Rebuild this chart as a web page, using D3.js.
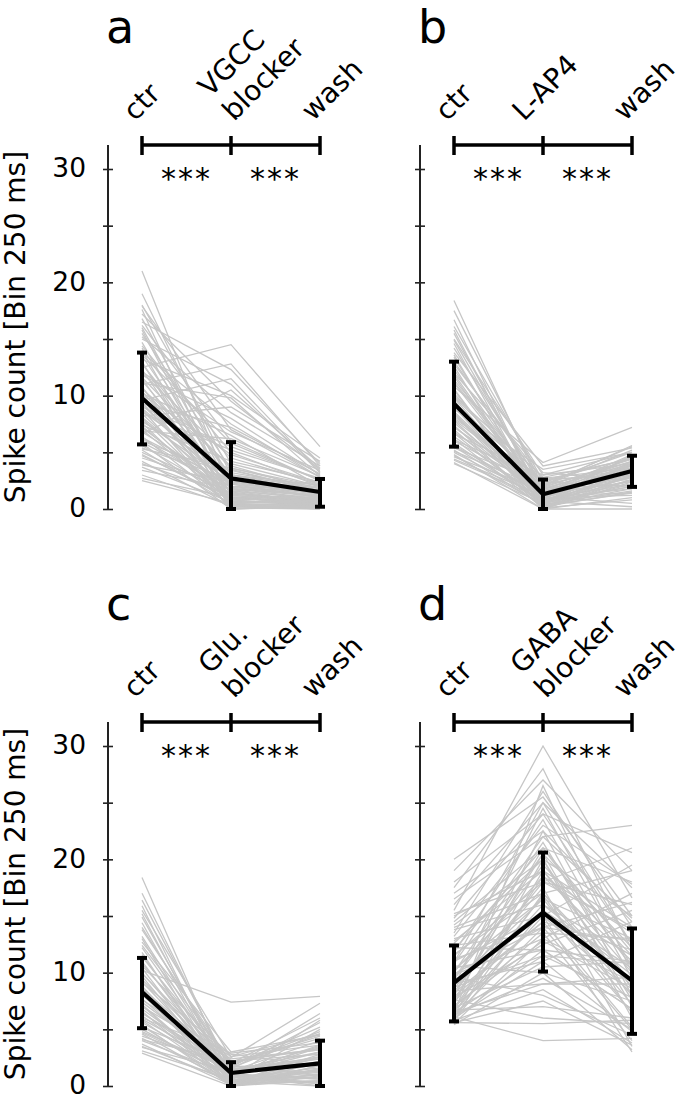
<!DOCTYPE html>
<html><head><meta charset="utf-8">
<script src="https://cdn.jsdelivr.net/npm/d3@7"></script>
<style>body{margin:0;background:#fff}svg{display:block}text{font-family:"DejaVu Sans",Verdana,sans-serif;fill:#000}</style>
</head><body>
<script>
// ---------- data ----------
const letters = ["a", "b", "c", "d"];
const catsA = ["ctr", "VGCC\nblocker", "wash"];
const catsB = ["ctr", "L-AP4", "wash"];
const catsC = ["ctr", "Glu.\nblocker", "wash"];
const catsD = ["ctr", "GABA\nblocker", "wash"];
const yTicks = [0, 5, 10, 15, 20, 25, 30];
const yLabeled = [0, 10, 20, 30];
const yLabel = "Spike count [Bin 250 ms]";
const sigLabels = ["***", "***"];

const cellsA = [
[21.0,1.5,0.5],[18.0,4.0,2.0],[17.6,0.5,0.8],[17.2,9.5,3.5],[16.8,2.5,1.0],[16.5,12.3,4.0],[16.2,6.0,2.5],[15.8,0.8,0.3],
[15.5,3.5,1.5],[15.0,11.0,3.2],[14.7,1.2,0.6],[14.4,5.0,2.0],[14.0,0.3,0.2],[13.8,7.5,2.8],[13.5,2.0,1.2],[13.2,10.0,4.5],
[13.0,0.0,0.5],[12.8,3.0,1.8],[12.5,14.5,5.5],[12.3,1.0,0.4],[12.0,4.5,2.2],[11.8,8.0,3.0],[11.5,0.6,0.9],[11.3,2.2,1.0],
[11.0,12.8,3.8],[10.8,0.2,0.1],[10.6,3.8,1.6],[10.4,1.5,2.5],[10.2,6.5,2.0],[10.0,0.4,0.3],[9.8,2.8,1.4],[9.6,11.5,3.3],
[9.4,0.9,0.7],[9.2,1.8,1.1],[9.0,5.5,2.6],[8.8,0.0,0.2],[8.6,3.2,1.9],[8.4,1.1,0.5],[8.2,9.0,4.2],[8.0,0.5,1.0],
[7.8,2.4,1.3],[7.6,0.1,0.0],[7.4,4.2,2.4],[7.2,1.3,0.8],[7.0,0.7,0.4],[6.8,2.0,1.7],[6.6,10.5,3.6],[6.4,0.3,0.6],
[6.2,1.6,0.9],[6.0,3.0,2.1],[5.8,0.0,0.3],[5.6,1.0,1.2],[5.4,2.6,1.5],[5.2,0.4,0.0],[5.0,1.4,0.7],[4.8,0.8,1.0],
[4.5,2.0,1.4],[4.2,0.2,0.2],[4.0,1.2,0.8],[3.7,0.6,0.5],[3.4,1.8,1.2],[3.0,0.3,0.4],[2.7,1.0,0.6],[2.5,0.5,0.3],
[19.0,3.0,1.5],[17.9,7.0,2.8],[16.0,1.8,0.9],[15.2,8.5,3.8],[14.2,2.6,1.4],[13.6,5.8,2.5],[12.9,1.4,0.7],[12.1,6.8,3.4],
[11.6,3.6,1.8],[11.1,9.8,2.9],[10.7,1.9,1.2],[10.1,4.8,2.3],[9.7,0.7,0.5],[9.3,7.2,3.1],[8.9,2.2,1.5],[8.5,5.2,2.7],
[8.1,1.6,0.6],[7.7,3.4,1.6],[7.3,0.9,1.1],[6.9,6.2,2.9],[6.3,2.3,1.3],[5.9,1.7,0.8],[5.3,3.6,2.0],[4.7,1.0,0.4],[3.9,2.4,1.6]];
const cellsB = [
[18.4,1.5,3.0],[16.7,0.5,2.0],[16.1,2.5,4.5],[15.5,1.0,3.5],[15.0,3.0,5.0],[14.6,0.2,1.5],[14.2,1.8,4.0],[13.8,3.8,5.4],
[13.4,0.8,2.8],[13.0,2.2,3.6],[12.6,0.0,1.0],[12.3,1.4,4.8],[12.0,3.2,2.5],[11.7,0.6,3.2],[11.4,2.0,5.2],[11.1,1.1,0.5],
[10.8,4.1,7.2],[10.5,0.3,2.2],[10.2,1.6,3.8],[10.0,2.8,4.4],[9.8,0.9,1.8],[9.6,0.0,3.0],[9.4,1.3,4.6],[9.2,2.4,2.0],
[9.0,0.5,3.4],[8.8,3.5,5.0],[8.6,1.0,1.2],[8.4,0.2,2.6],[8.2,1.7,4.2],[8.0,2.6,3.0],[7.8,0.7,0.2],[7.6,1.2,3.8],
[7.4,0.0,2.4],[7.2,2.0,5.6],[7.0,0.4,1.6],[6.8,1.5,3.2],[6.6,3.0,4.0],[6.4,0.8,2.8],[6.2,0.1,0.8],[6.0,1.9,4.4],
[5.8,0.6,2.0],[5.6,1.3,3.6],[5.4,2.3,5.0],[5.2,0.3,1.4],[5.0,1.0,2.9],[4.8,0.0,0.0],[4.6,1.6,3.3],[4.3,0.9,2.2],[4.0,0.5,4.8],
[17.5,2.0,4.2],[15.8,0.6,2.6],[14.9,1.2,3.9],[13.6,0.4,4.2],[12.8,2.6,3.0],[11.9,0.9,4.0],[11.2,1.8,2.8],[10.6,0.1,3.6],
[9.9,2.1,5.5],[9.1,1.4,2.4],[8.5,0.6,3.9],[7.9,1.9,2.1],[7.3,1.0,4.6],[6.7,0.3,1.8],[6.1,2.7,3.6],[5.5,0.7,2.5],
[5.1,1.8,4.0],[4.7,0.4,3.0],[4.4,1.2,1.4],[4.1,0.0,2.6]];
const cellsC = [
[18.4,0.5,1.0],[16.4,1.5,2.5],[15.9,0.0,0.5],[15.5,2.5,7.3],[14.9,1.0,3.0],[14.4,0.3,1.5],[13.8,2.0,6.0],[13.2,0.8,0.2],
[12.7,3.0,4.5],[12.2,1.2,2.0],[11.8,0.0,0.8],[11.4,1.8,5.2],[11.0,0.5,1.2],[10.6,2.6,3.6],[10.2,7.4,7.9],[10.0,1.0,0.0],
[9.7,0.2,2.6],[9.4,1.6,6.4],[9.1,2.8,1.8],[8.8,0.6,0.4],[8.5,1.3,4.0],[8.2,0.0,1.4],[8.0,2.2,2.8],[7.7,0.9,0.6],
[7.4,1.5,5.6],[7.2,0.3,1.0],[7.0,2.4,3.2],[6.8,1.1,0.2],[6.6,0.0,2.2],[6.4,1.8,4.8],[6.2,0.7,1.6],[6.0,2.9,3.8],
[5.8,0.4,0.0],[5.6,1.2,2.4],[5.4,0.0,0.9],[5.2,2.0,4.2],[5.0,0.8,1.3],[4.8,1.4,3.0],[4.6,0.2,0.4],[4.4,1.7,2.0],
[4.2,0.5,5.0],[4.0,1.0,0.7],[3.7,0.1,1.8],[3.4,1.3,2.6],[3.1,0.6,0.3],[2.9,0.0,1.1],
[17.0,1.2,3.5],[15.2,0.4,2.0],[14.0,1.6,4.6],[13.0,0.0,1.8],[12.4,2.2,3.2],[11.6,0.7,5.8],[10.8,1.4,2.4],[10.4,0.2,1.0],
[9.9,2.0,4.4],[9.2,0.9,3.4],[8.6,1.8,0.9],[8.1,0.5,2.2],[7.6,2.6,4.6],[7.1,0.1,1.5],[6.5,1.0,3.6],[5.9,1.6,1.2],
[5.3,0.3,2.8],[4.7,1.1,0.6],[4.1,2.2,3.3],[3.5,0.4,1.4]];
const cellsD = [
[20.0,25.5,15.0],[18.0,24.0,20.6],[17.5,28.0,12.0],[16.5,22.0,23.0],[15.5,30.0,16.6],[15.0,19.0,10.0],[14.5,21.0,18.0],[14.0,17.0,8.0],
[13.5,26.0,14.0],[13.0,15.0,19.5],[12.6,20.0,6.0],[12.2,12.0,11.0],[11.8,23.5,9.5],[11.5,18.0,16.0],[11.2,14.0,5.0],[10.9,25.0,12.5],
[10.6,10.0,7.5],[10.3,16.5,13.0],[10.0,21.5,8.5],[9.8,13.0,17.0],[9.6,8.0,4.5],[9.4,19.5,11.5],[9.2,15.5,6.5],[9.0,11.0,14.5],
[8.8,24.5,10.5],[8.6,17.5,3.5],[8.4,9.0,9.0],[8.2,14.5,12.0],[8.0,20.5,7.0],[7.8,12.5,15.5],[7.6,6.0,5.5],[7.4,16.0,9.8],
[7.2,22.5,8.0],[7.0,13.5,4.0],[6.9,10.5,11.0],[6.8,18.5,13.5],[6.7,7.0,6.0],[6.6,15.0,3.0],[6.5,11.5,7.8],[6.4,26.5,10.0],
[6.3,9.5,5.0],[6.2,14.0,12.8],[6.1,4.0,4.2],[6.0,17.0,8.8],[5.9,12.0,6.8],[5.8,8.5,3.8],[5.7,19.0,14.0],[5.6,5.5,5.8],
[5.5,13.0,9.2],[5.4,10.0,3.2],
[19.0,27.0,19.0],[17.0,22.5,14.5],[16.0,25.0,17.5],[15.2,18.0,21.0],[14.8,24.0,12.5],[14.2,20.0,15.0],[13.8,16.0,11.5],[13.2,23.0,17.8],
[12.8,19.0,9.0],[12.4,13.5,13.0],[12.0,21.0,10.5],[11.6,17.0,19.0],[11.0,15.0,8.2],[10.8,22.0,14.8],[10.4,12.0,6.8],[10.1,18.5,11.0],
[9.9,14.0,16.2],[9.5,20.5,12.2],[9.1,16.5,7.2],[8.7,11.5,10.8],[8.3,18.0,13.8],[7.9,14.5,5.2],[7.5,21.0,11.8],[7.1,12.8,8.6],
[6.8,16.8,6.4],[6.5,9.0,9.6],[6.2,20.0,7.6],[6.0,11.0,4.8],[5.8,15.5,10.4],[5.6,7.5,3.6]];

const meanA = [9.8, 2.7, 1.5],  loA = [5.7, 0.0, 0.2], hiA = [13.8, 5.9, 2.65];
const meanB = [9.3, 1.3, 3.35], loB = [5.5, 0.0, 1.95], hiB = [13.0, 2.6, 4.7];
const meanC = [8.3, 1.15, 2.0], loC = [5.1, 0.0, 0.0], hiC = [11.3, 2.1, 4.0];
const meanD = [9.1, 15.3, 9.3], loD = [5.7, 10.1, 4.6], hiD = [12.4, 20.6, 13.9];

// ---------- layout (positions / styles only) ----------
const W = 685, H = 1100, FS = 28;
const labelShift = {"ctr": -7, "wash": -7, "L-AP4": -19, "multi": 3};
const panels = [
  {letter: letters[0], cats: catsA, cells: cellsA, mean: meanA, lo: loA, hi: hiA, ax: 108, base: 509, showLabels: true},
  {letter: letters[1], cats: catsB, cells: cellsB, mean: meanB, lo: loB, hi: hiB, ax: 420, base: 509, showLabels: false},
  {letter: letters[2], cats: catsC, cells: cellsC, mean: meanC, lo: loC, hi: hiC, ax: 108, base: 1086, showLabels: true},
  {letter: letters[3], cats: catsD, cells: cellsD, mean: meanD, lo: loD, hi: hiD, ax: 420, base: 1086, showLabels: false}
];

const svg = d3.select("body").append("svg").attr("width", W).attr("height", H);

panels.forEach(p => {
  const g = svg.append("g");
  const y = d3.scaleLinear().domain([0, 30]).range([p.base, p.base - 340]);
  const x = d3.scalePoint().domain([0, 1, 2]).range([p.ax + 34, p.ax + 212]);
  const top = p.base - 364;

  // axis
  const axis = d3.axisLeft(y).tickValues(yTicks).tickSize(5).tickPadding(17)
    .tickFormat(d => (p.showLabels && yLabeled.includes(d)) ? d : "");
  const ag = g.append("g").attr("transform", `translate(${p.ax},0)`).call(axis);
  ag.select(".domain").remove();
  ag.append("line").attr("x1", 0).attr("x2", 0).attr("y1", y(0)).attr("y2", top)
    .attr("stroke", "#222").attr("stroke-width", 2);
  ag.selectAll(".tick line").attr("x1", -5).attr("x2", 5).attr("stroke", "#222").attr("stroke-width", 1.6);
  ag.selectAll(".tick text").attr("font-size", 26.5).attr("fill", "#000").attr("dy", "0.3em")
    .style("font-family", '"DejaVu Sans",Verdana,sans-serif');

  if (p.showLabels) {
    g.append("text").attr("transform", `translate(25,${(y(0) + top) / 2}) rotate(-90)`)
      .attr("text-anchor", "middle").attr("font-size", FS).text(yLabel);
  }

  // panel letter
  g.append("text").attr("x", p.ax - 2).attr("y", p.base - 466).attr("font-size", 46).text(p.letter);

  // grey individual lines
  const line = d3.line().x((d, i) => x(i)).y(d => y(d));
  g.append("g").selectAll("path").data(p.cells).join("path")
    .attr("d", line).attr("fill", "none").attr("stroke", "#c6c6c6").attr("stroke-width", 1.3);

  // mean line
  g.append("path").datum(p.mean).attr("d", line).attr("fill", "none")
    .attr("stroke", "#000").attr("stroke-width", 4.2).attr("stroke-linejoin", "round");
  // error bars
  const eb = g.append("g").attr("stroke", "#000").attr("stroke-width", 4);
  p.mean.forEach((m, i) => {
    eb.append("line").attr("x1", x(i)).attr("x2", x(i)).attr("y1", y(p.lo[i])).attr("y2", y(p.hi[i]));
    eb.append("line").attr("x1", x(i) - 5).attr("x2", x(i) + 5).attr("y1", y(p.lo[i])).attr("y2", y(p.lo[i]));
    eb.append("line").attr("x1", x(i) - 5).attr("x2", x(i) + 5).attr("y1", y(p.hi[i])).attr("y2", y(p.hi[i]));
  });

  // bracket
  const by = top;
  const bg = g.append("g").attr("stroke", "#000").attr("stroke-width", 3.5);
  bg.append("line").attr("x1", x(0)).attr("x2", x(2)).attr("y1", by).attr("y2", by);
  [0, 1, 2].forEach(i => bg.append("line").attr("x1", x(i)).attr("x2", x(i)).attr("y1", by - 9).attr("y2", by + 10));
  sigLabels.forEach((s, i) => {
    g.append("text").attr("x", (x(i) + x(i + 1)) / 2).attr("y", by + 44).attr("text-anchor", "middle")
      .attr("font-size", 30).attr("letter-spacing", 2).text(s);
  });

  // category labels
  p.cats.forEach((c, i) => {
    const lines = c.split("\n");
    const dx = lines.length > 1 ? labelShift.multi : (labelShift[c] ?? -7);
    const t = g.append("text").attr("font-size", FS)
      .attr("transform", `translate(${x(i) + dx},${p.base - 387}) rotate(-45)`);
    lines.forEach((l, k) => {
      t.append("tspan").attr("x", 0).attr("y", (k - (lines.length - 1)) * 34).text(l);
    });
  });
});
</script>
</body></html>
